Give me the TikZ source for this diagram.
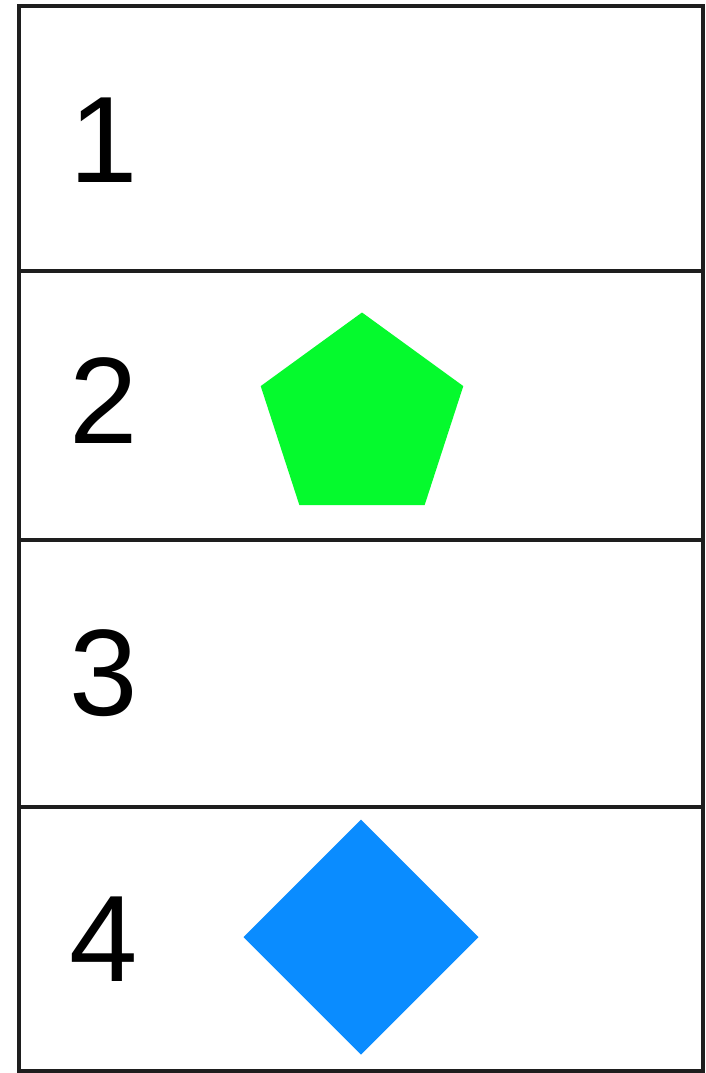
\documentclass[tikz,border=0pt]{standalone}
\usepackage{fontspec}
\setmainfont{Liberation Sans}
\usetikzlibrary{shapes.geometric}
\definecolor{lineclr}{RGB}{30,30,30}
\definecolor{greenfill}{RGB}{5,250,45}
\definecolor{bluefill}{RGB}{10,140,255}
\tikzset{
  frame/.style={draw=lineclr, line width=3.5pt},
  digit/.style={inner sep=0pt, anchor=base west, font=\fontsize{123}{123}\selectfont, text=black},
  pent/.style={regular polygon, regular polygon sides=5, fill=greenfill, draw=none, inner sep=0pt, outer sep=0pt, minimum size=213pt},
  diam/.style={diamond, aspect=1, fill=bluefill, draw=none, inner sep=0pt, outer sep=0pt, minimum width=235pt, minimum height=235pt}
}
\begin{document}
\begin{tikzpicture}[x=1pt, y=-1pt]
\useasboundingbox (0,0) rectangle (706,1073);
\fill[white] (0,0) rectangle (706,1073);
% outer frame and row dividers
\draw[frame] (19,6) rectangle (703,1071);
\draw[frame] (19,271) -- (703,271);
\draw[frame] (19,540) -- (703,540);
\draw[frame] (19,807) -- (703,807);
% digits
\node[digit] (d1) at (69,182) {1};
\node[digit] (d2) at (69,443) {2};
\node[digit] (d3) at (69,715) {3};
\node[digit] (d4) at (69,981) {4};
% shapes
\node[pent] (pentagon) at (362,419) {};
\node[diam] (diamondshape) at (361,937) {};
\end{tikzpicture}
\end{document}
